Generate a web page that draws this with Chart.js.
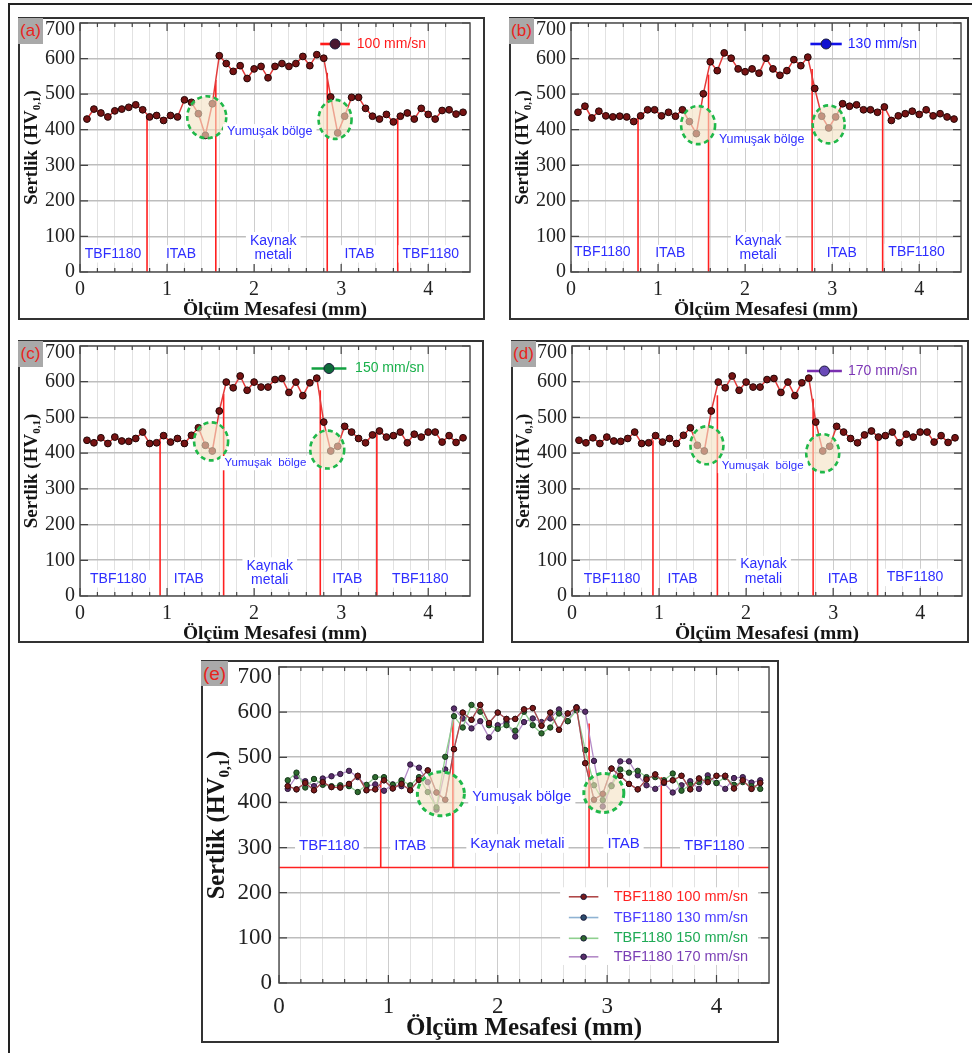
<!DOCTYPE html>
<html>
<head>
<meta charset="utf-8">
<script src="https://cdn.jsdelivr.net/npm/chart.js@4.4.1/dist/chart.umd.min.js"></script>
<style>
  body { margin: 0; background: #fff; width: 972px; height: 1053px; position: relative; overflow: hidden; }
  .frame { position: absolute; left: 8px; top: 3px; width: 1000px; height: 1100px; border-left: 2px solid #222; border-top: 2px solid #222; }
  .box { position: absolute; box-sizing: border-box; border: 2px solid #333; background: #fff; }
  .tag { position: absolute; background: #a9a9a9; color: #e8241c; font-family: "Liberation Sans", Arial, sans-serif; text-align: center; }
  canvas { position: absolute; }
</style>
</head>
<body>
<div class="frame"></div>
<script>
// measuring positions along the joint (mm)
var xMm = [0.08, 0.16, 0.24, 0.32, 0.40, 0.48, 0.56, 0.64, 0.72, 0.80,
           0.88, 0.96, 1.04, 1.12, 1.20, 1.28, 1.36, 1.44, 1.52, 1.60,
           1.68, 1.76, 1.84, 1.92, 2.00, 2.08, 2.16, 2.24, 2.32, 2.40,
           2.48, 2.56, 2.64, 2.72, 2.80, 2.88, 2.96, 3.04, 3.12, 3.20,
           3.28, 3.36, 3.44, 3.52, 3.60, 3.68, 3.76, 3.84, 3.92, 4.00,
           4.08, 4.16, 4.24, 4.32, 4.40];

// hardness HV0,1 per panel
var hvA = [430, 458, 447, 436, 453, 458, 463, 470, 456, 436,
           440, 426, 440, 436, 484, 477, 445, 384, 473, 608,
           586, 564, 580, 544, 571, 578, 546, 578, 586, 578,
           586, 606, 580, 611, 601, 492, 391, 438, 491, 491,
           460, 438, 430, 443, 422, 438, 447, 430, 460, 443,
           430, 454, 456, 444, 449];
var hvB = [449, 466, 433, 452, 439, 436, 438, 436, 423, 439,
           456, 456, 439, 449, 438, 456, 423, 389, 501, 591,
           566, 616, 601, 571, 563, 571, 559, 601, 571, 553,
           566, 597, 580, 604, 516, 438, 405, 436, 473, 466,
           470, 456, 456, 449, 464, 426, 439, 445, 452, 443,
           456, 439, 445, 436, 430];
var hvC = [436, 429, 443, 427, 445, 434, 433, 441, 459, 427,
           429, 449, 431, 441, 427, 450, 471, 422, 406, 518,
           599, 583, 616, 576, 599, 585, 585, 606, 609, 570,
           599, 561, 597, 610, 487, 406, 419, 475, 459, 441,
           429, 451, 462, 445, 449, 459, 429, 453, 445, 459,
           459, 431, 449, 430, 443];
var hvD = [436, 429, 443, 427, 445, 434, 433, 441, 459, 427,
           429, 449, 431, 441, 427, 450, 471, 422, 406, 518,
           599, 583, 616, 576, 599, 585, 585, 606, 609, 570,
           599, 561, 597, 610, 487, 406, 419, 475, 459, 441,
           429, 451, 462, 445, 449, 459, 429, 453, 445, 459,
           459, 431, 449, 430, 443];

// zone boundaries (x in mm, top of red line in HV)
var bndAx = [0.77, 1.56, 2.84, 3.65], bndAtop = [441, 540, 560, 430];
var bndBx = [0.77, 1.58, 2.77, 3.58], bndBtop = [438, 555, 571, 456];
var bndCx = [0.92, 1.65, 2.76, 3.41], bndCtop = [436, 566, 576, 455];
var bndDx = [0.93, 1.67, 2.77, 3.51], bndDtop = [436, 562, 552, 447];
var bndEx = [0.93, 1.59, 2.835, 3.495], bndEtop = [447, 590, 575, 456];
var bndEbase = 256;

var yTickLabels = [0, 100, 200, 300, 400, 500, 600, 700];
var xTickLabels = [0, 1, 2, 3, 4];
var speeds = ['100 mm/sn', '130 mm/sn', '150 mm/sn', '170 mm/sn'];

var SANS = '"Liberation Sans", Arial, sans-serif';
var SERIF = '"Liberation Serif", "Times New Roman", serif';
var BLUE = '#2e2eff';

function isInt(v) { return Math.abs(v - Math.round(v)) < 1e-6; }

var panels = [
  { id: 'a', box: [18, 17, 467, 303], area: [80, 23, 470, 272], big: false,
    series: [{ data: hvA, line: '#e23b3b', dot: '#761313', edge: '#200505' }],
    legend: [{ text: speeds[0], color: '#ff1a1a', line: '#ff1a1a', dot: '#4a1830', x0: 2.76, x1: 3.10, y: 641, tx: 3.18 }],
    bx: bndAx, btop: bndAtop, base: 0,
    zones: [['TBF1180', 0.38, 51], ['ITAB', 1.16, 51], ['Kaynak', 2.22, 88], ['metali', 2.22, 46], ['ITAB', 3.21, 51], ['TBF1180', 4.03, 51]],
    soft: ['Yumuşak bölge', 2.18, 394, 12.5],
    circles: [[1.456, 435, 19.5, 21], [2.93, 429, 16.5, 19.5]] },
  { id: 'b', box: [509, 17, 460, 303], area: [571, 23, 961, 272], big: false,
    series: [{ data: hvB, line: '#e23b3b', dot: '#761313', edge: '#200505' }],
    legend: [{ text: speeds[1], color: '#1c1cff', line: '#1010e8', dot: '#1010d0', x0: 2.75, x1: 3.11, y: 641, tx: 3.18 }],
    bx: bndBx, btop: bndBtop, base: 0,
    zones: [['TBF1180', 0.36, 55], ['ITAB', 1.14, 52], ['Kaynak', 2.15, 88], ['metali', 2.15, 47], ['ITAB', 3.11, 52], ['TBF1180', 3.97, 55]],
    soft: ['Yumuşak bölge', 2.19, 371, 12.5],
    circles: [[1.46, 413, 17, 19], [2.96, 415, 16, 19]] },
  { id: 'c', box: [18, 340, 466, 303], area: [80, 346, 470, 596], big: false,
    series: [{ data: hvC, line: '#e23b3b', dot: '#761313', edge: '#200505' }],
    legend: [{ text: speeds[2], color: '#18b04a', line: '#12a040', dot: '#0f6b3a', x0: 2.66, x1: 3.06, y: 637, tx: 3.16 }],
    bx: bndCx, btop: bndCtop, base: 0,
    zones: [['TBF1180', 0.44, 48], ['ITAB', 1.25, 48], ['Kaynak', 2.18, 84], ['metali', 2.18, 44], ['ITAB', 3.07, 48], ['TBF1180', 3.91, 48]],
    soft: ['Yumuşak  bölge', 2.13, 372, 11.5],
    circles: [[1.506, 433, 17, 19], [2.84, 410, 17, 19]] },
  { id: 'd', box: [511, 340, 458, 303], area: [572, 346, 962, 596], big: false,
    series: [{ data: hvD, line: '#e23b3b', dot: '#761313', edge: '#200505' }],
    legend: [{ text: speeds[3], color: '#7b35b5', line: '#7a2fb0', dot: '#6a4ab8', x0: 2.70, x1: 3.10, y: 630, tx: 3.17 }],
    bx: bndDx, btop: bndDtop, base: 0,
    zones: [['TBF1180', 0.46, 48], ['ITAB', 1.27, 48], ['Kaynak', 2.20, 88], ['metali', 2.20, 48], ['ITAB', 3.11, 48], ['TBF1180', 3.94, 52]],
    soft: ['Yumuşak  bölge', 2.19, 364, 11.5],
    circles: [[1.55, 422, 16.5, 19], [2.88, 400, 16.5, 19]] },
  { id: 'e', box: [201, 660, 578, 383], area: [279, 667, 776, 983], big: true,
    series: [
      { data: hvC, line: '#b04848', dot: '#7a1a1a', edge: '#3a0a0a' },
      { data: hvD, line: '#8fb3d3', dot: '#2d4d6d', edge: '#16263a' },
      { data: hvB, line: '#8fd08f', dot: '#2d6a2d', edge: '#15351a' },
      { data: hvA, line: '#b48cc8', dot: '#5a2d6a', edge: '#2a1a3a' }
    ],
    legend: [
      { text: 'TBF1180 ' + speeds[0], color: '#ff2222', line: '#b04848', dot: '#7a1a1a', x0: 2.65, x1: 2.92, y: 191, tx: 3.06 },
      { text: 'TBF1180 ' + speeds[1], color: '#4b3cff', line: '#8fb3d3', dot: '#2d4d6d', x0: 2.65, x1: 2.92, y: 145, tx: 3.06 },
      { text: 'TBF1180 ' + speeds[2], color: '#1faa55', line: '#8fd08f', dot: '#2d6a2d', x0: 2.65, x1: 2.92, y: 99, tx: 3.06 },
      { text: 'TBF1180 ' + speeds[3], color: '#7b3fb5', line: '#b48cc8', dot: '#5a2d6a', x0: 2.65, x1: 2.92, y: 58, tx: 3.06 }
    ],
    bx: bndEx, btop: bndEtop, base: bndEbase,
    zones: [['TBF1180', 0.46, 304], ['ITAB', 1.20, 304], ['Kaynak metali', 2.18, 309], ['ITAB', 3.15, 309], ['TBF1180', 3.98, 304]],
    soft: ['Yumuşak bölge', 2.22, 412, 14.5],
    circles: [[1.48, 419, 23.5, 22], [2.97, 421, 20, 19.5]] }
];

function labelWithBg(ctx, txt, x, y, size, color) {
  ctx.font = size + 'px ' + SANS;
  var w = ctx.measureText(txt).width;
  ctx.fillStyle = '#fff';
  ctx.fillRect(x - w / 2 - 4, y - size * 0.62, w + 8, size * 1.24);
  ctx.fillStyle = color;
  ctx.textAlign = 'center';
  ctx.textBaseline = 'middle';
  ctx.fillText(txt, x, y);
}

function yTitle(ctx, cx, cy, size) {
  var f = 'bold ' + size + 'px ' + SERIF;
  var fs = 'bold ' + Math.round(size * 0.6) + 'px ' + SERIF;
  ctx.save();
  ctx.translate(cx, cy);
  ctx.rotate(-Math.PI / 2);
  ctx.font = f;
  var w1 = ctx.measureText('Sertlik (HV').width, w3 = ctx.measureText(')').width;
  ctx.font = fs;
  var w2 = ctx.measureText('0,1').width;
  var x = -(w1 + w2 + w3) / 2;
  ctx.fillStyle = '#151515';
  ctx.textAlign = 'left';
  ctx.textBaseline = 'middle';
  ctx.font = f; ctx.fillText('Sertlik (HV', x, 0);
  ctx.font = fs; ctx.fillText('0,1', x + w1, size * 0.28);
  ctx.font = f; ctx.fillText(')', x + w1 + w2, 0);
  ctx.restore();
}

function makeDecor(p) {
  return {
    id: 'decor' + p.id,
    afterDatasetsDraw: function (chart) {
      var ctx = chart.ctx, xs = chart.scales.x, ys = chart.scales.y, a = chart.chartArea;
      ctx.save();
      ctx.beginPath();
      ctx.rect(a.left, a.top, a.right - a.left, a.bottom - a.top);
      ctx.clip();
      // soft zone rings
      p.circles.forEach(function (c) {
        ctx.beginPath();
        ctx.ellipse(xs.getPixelForValue(c[0]), ys.getPixelForValue(c[1]), c[2], c[3], 0, 0, Math.PI * 2);
        ctx.fillStyle = 'rgba(244,226,196,0.62)';
        ctx.fill();
        ctx.setLineDash([5, 3.5]);
        ctx.lineWidth = p.big ? 3 : 2.6;
        ctx.strokeStyle = '#20b84a';
        ctx.stroke();
        ctx.setLineDash([]);
      });
      var zs = p.big ? 15 : 14;
      p.zones.forEach(function (z) {
        labelWithBg(ctx, z[0], xs.getPixelForValue(z[1]), ys.getPixelForValue(z[2]), zs, BLUE);
      });
      labelWithBg(ctx, p.soft[0], xs.getPixelForValue(p.soft[1]), ys.getPixelForValue(p.soft[2]), p.soft[3], BLUE);
      // legend
      if (p.big) {
        ctx.fillStyle = '#fff';
        var lx = xs.getPixelForValue(2.57), rx = xs.getPixelForValue(4.38);
        ctx.fillRect(lx, ys.getPixelForValue(212), rx - lx, ys.getPixelForValue(40) - ys.getPixelForValue(212));
      }
      p.legend.forEach(function (l) {
        var y = ys.getPixelForValue(l.y);
        var x0 = xs.getPixelForValue(l.x0), x1 = xs.getPixelForValue(l.x1);
        ctx.strokeStyle = l.line;
        ctx.lineWidth = p.big ? 1.6 : 2.6;
        ctx.beginPath(); ctx.moveTo(x0, y); ctx.lineTo(x1, y); ctx.stroke();
        ctx.beginPath();
        ctx.arc((x0 + x1) / 2, y, p.big ? 2.8 : 5, 0, Math.PI * 2);
        ctx.fillStyle = l.dot; ctx.fill();
        ctx.lineWidth = 1; ctx.strokeStyle = '#1a1a3a'; ctx.stroke();
        ctx.font = (p.big ? 14.5 : 14) + 'px ' + SANS;
        ctx.fillStyle = l.color;
        ctx.textAlign = 'left';
        ctx.textBaseline = 'middle';
        ctx.fillText(l.text, xs.getPixelForValue(l.tx), y);
      });
      ctx.restore();
    },
    afterDraw: function (chart) {
      var ctx = chart.ctx, xs = chart.scales.x, ys = chart.scales.y, a = chart.chartArea;
      ctx.save();
      ctx.strokeStyle = '#555';
      ctx.lineWidth = 1.5;
      ctx.strokeRect(a.left, a.top, a.right - a.left, a.bottom - a.top);
      ctx.lineWidth = 1.2;
      ctx.strokeStyle = '#444';
      ctx.beginPath();
      xs.ticks.forEach(function (t) {
        if (t.value > 4.45) return;
        var px = xs.getPixelForValue(t.value), L = isInt(t.value) ? 8 : 4;
        ctx.moveTo(px, a.bottom); ctx.lineTo(px, a.bottom - L);
        ctx.moveTo(px, a.top); ctx.lineTo(px, a.top + L);
      });
      ys.ticks.forEach(function (t) {
        var py = ys.getPixelForValue(t.value), L = t.value % 100 === 0 ? 8 : 4;
        ctx.moveTo(a.left, py); ctx.lineTo(a.left + L, py);
        ctx.moveTo(a.right, py); ctx.lineTo(a.right - L, py);
      });
      ctx.stroke();
      // top tick label sits just inside the panel frame
      var top = yTickLabels[yTickLabels.length - 1];
      ctx.font = (p.big ? 23 : 20) + 'px ' + SERIF;
      ctx.fillStyle = '#222';
      ctx.textAlign = 'right';
      ctx.textBaseline = 'middle';
      ctx.fillText(String(top), a.left - (p.big ? 7 : 5), ys.getPixelForValue(top) + (p.big ? 10 : 7));
      // axis titles
      ctx.font = 'bold ' + (p.big ? 25 : 19.5) + 'px ' + SERIF;
      ctx.fillStyle = '#151515';
      ctx.textAlign = 'center';
      ctx.fillText('Ölçüm Mesafesi (mm)', (a.left + a.right) / 2, a.bottom + (p.big ? 46 : 38));
      yTitle(ctx, a.left - (p.big ? 61 : 48), (a.top + a.bottom) / 2, p.big ? 24.5 : 19);
      ctx.restore();
    }
  };
}

function build(p) {
  var box = document.createElement('div');
  box.className = 'box';
  box.style.left = p.box[0] + 'px'; box.style.top = p.box[1] + 'px';
  box.style.width = p.box[2] + 'px'; box.style.height = p.box[3] + 'px';
  document.body.appendChild(box);

  var cx = p.box[0], cy = p.box[1] - 14, cw = p.box[2], ch = p.box[3] + 14;
  var cv = document.createElement('canvas');
  cv.width = cw; cv.height = ch;
  cv.style.left = cx + 'px'; cv.style.top = cy + 'px';
  document.body.appendChild(cv);

  var fs = p.big ? 23 : 20;
  var topLabel = yTickLabels[yTickLabels.length - 1];
  var datasets = [];
  p.series.forEach(function (s, k) {
    datasets.push({
      data: xMm.map(function (x, i) { return { x: x, y: s.data[i] }; }),
      borderColor: s.line, borderWidth: p.big ? 1.3 : 1.5,
      pointRadius: p.big ? 2.7 : 3.4, pointBackgroundColor: s.dot,
      pointBorderColor: s.edge, pointBorderWidth: 1, order: k
    });
  });
  p.bx.forEach(function (x, i) {
    datasets.push({ data: [{ x: x, y: p.base }, { x: x, y: p.btop[i] }],
      borderColor: '#ff2020', borderWidth: 1.6, pointRadius: 0, order: 10 });
  });
  if (p.base > 0) {
    datasets.push({ data: [{ x: 0, y: p.base }, { x: 4.48, y: p.base }],
      borderColor: '#ff2020', borderWidth: 1.6, pointRadius: 0, order: 10 });
  }

  new Chart(cv, {
    type: 'line',
    data: { datasets: datasets },
    options: {
      responsive: false,
      animation: false,
      layout: { padding: { left: 0, top: p.area[1] - cy, right: cx + cw - p.area[2], bottom: 0 } },
      plugins: { legend: { display: false }, tooltip: { enabled: false } },
      scales: {
        x: {
          type: 'linear', min: 0, max: 4.48,
          afterFit: function (s) { s.height = cy + ch - p.area[3]; },
          ticks: {
            stepSize: 0.2, autoSkip: false, maxRotation: 0, padding: p.big ? 10 : 6,
            color: '#222', font: { family: SERIF, size: fs },
            callback: function (v) { return isInt(v) && xTickLabels.indexOf(Math.round(v)) >= 0 ? String(Math.round(v)) : ''; }
          },
          grid: {
            drawTicks: false, lineWidth: 1,
            color: function (c) { return c.tick && isInt(c.tick.value) ? '#cdcdcd' : '#e2e2e2'; }
          },
          border: { display: false }
        },
        y: {
          min: 0, max: 700,
          afterFit: function (s) { s.width = p.area[0] - cx; },
          ticks: {
            stepSize: 50, padding: p.big ? 7 : 5,
            color: '#222', font: { family: SERIF, size: fs },
            callback: function (v) { return v !== topLabel && yTickLabels.indexOf(v) >= 0 ? String(v) : ''; }
          },
          grid: {
            drawTicks: false,
            lineWidth: function (c) { return c.tick && c.tick.value % 100 === 0 ? 1.6 : 1; },
            color: function (c) { return c.tick && c.tick.value % 100 === 0 ? '#bdbdbd' : '#e2e2e2'; }
          },
          border: { display: false }
        }
      }
    },
    plugins: [makeDecor(p)]
  });

  var tag = document.createElement('div');
  tag.className = 'tag';
  var tw = p.big ? 27 : 25, th = p.big ? 25 : 26;
  tag.style.left = p.box[0] + 'px'; tag.style.top = (p.box[1] + 1) + 'px';
  tag.style.width = tw + 'px'; tag.style.height = th + 'px';
  tag.style.lineHeight = th + 'px';
  tag.style.fontSize = (p.big ? 19 : 17) + 'px';
  tag.textContent = '(' + p.id + ')';
  document.body.appendChild(tag);
}

panels.forEach(build);
</script>
</body>
</html>
